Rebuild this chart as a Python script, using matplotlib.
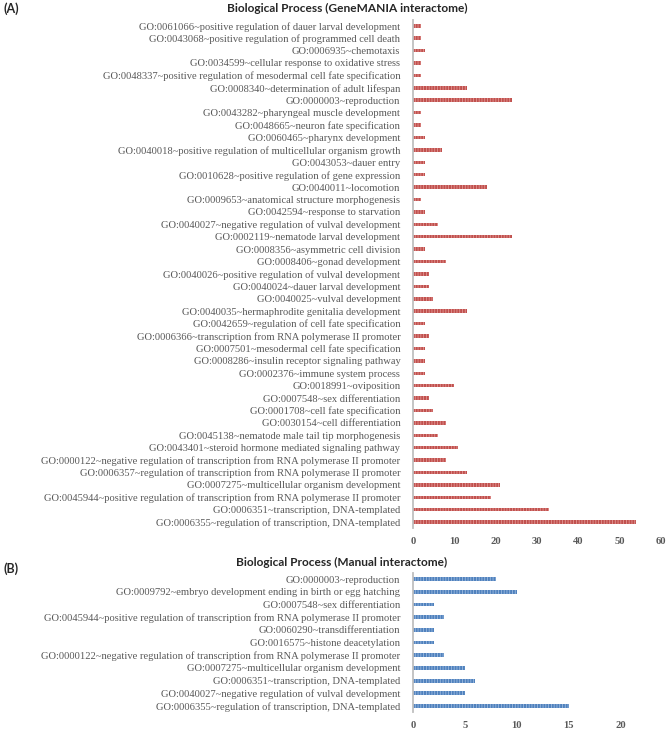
import numpy as np
import matplotlib
matplotlib.use("Agg")
import matplotlib.pyplot as plt

# Panel A: GeneMANIA interactome (top to bottom as shown)
terms_a = [
    "GO:0061066~positive regulation of dauer larval development",
    "GO:0043068~positive regulation of programmed cell death",
    "GO:0006935~chemotaxis",
    "GO:0034599~cellular response to oxidative stress",
    "GO:0048337~positive regulation of mesodermal cell fate specification",
    "GO:0008340~determination of adult lifespan",
    "GO:0000003~reproduction",
    "GO:0043282~pharyngeal muscle development",
    "GO:0048665~neuron fate specification",
    "GO:0060465~pharynx development",
    "GO:0040018~positive regulation of multicellular organism growth",
    "GO:0043053~dauer entry",
    "GO:0010628~positive regulation of gene expression",
    "GO:0040011~locomotion",
    "GO:0009653~anatomical structure morphogenesis",
    "GO:0042594~response to starvation",
    "GO:0040027~negative regulation of vulval development",
    "GO:0002119~nematode larval development",
    "GO:0008356~asymmetric cell division",
    "GO:0008406~gonad development",
    "GO:0040026~positive regulation of vulval development",
    "GO:0040024~dauer larval development",
    "GO:0040025~vulval development",
    "GO:0040035~hermaphrodite genitalia development",
    "GO:0042659~regulation of cell fate specification",
    "GO:0006366~transcription from RNA polymerase II promoter",
    "GO:0007501~mesodermal cell fate specification",
    "GO:0008286~insulin receptor signaling pathway",
    "GO:0002376~immune system process",
    "GO:0018991~oviposition",
    "GO:0007548~sex differentiation",
    "GO:0001708~cell fate specification",
    "GO:0030154~cell differentiation",
    "GO:0045138~nematode male tail tip morphogenesis",
    "GO:0043401~steroid hormone mediated signaling pathway",
    "GO:0000122~negative regulation of transcription from RNA polymerase II promoter",
    "GO:0006357~regulation of transcription from RNA polymerase II promoter",
    "GO:0007275~multicellular organism development",
    "GO:0045944~positive regulation of transcription from RNA polymerase II promoter",
    "GO:0006351~transcription, DNA-templated",
    "GO:0006355~regulation of transcription, DNA-templated",
]
counts_a = [2, 2, 3, 2, 2, 13, 24, 2, 2, 3, 7, 3, 3,
            18, 2, 3, 6, 24, 3, 8, 4, 4, 5, 13, 3, 4,
            3, 3, 3, 10, 4, 5, 8, 6, 11, 8, 13, 21, 19, 33, 54]
ticks_a = [0, 10, 20, 30, 40, 50, 60]

# Panel B: Manual interactome
terms_b = [
    "GO:0000003~reproduction",
    "GO:0009792~embryo development ending in birth or egg hatching",
    "GO:0007548~sex differentiation",
    "GO:0045944~positive regulation of transcription from RNA polymerase II promoter",
    "GO:0060290~transdifferentiation",
    "GO:0016575~histone deacetylation",
    "GO:0000122~negative regulation of transcription from RNA polymerase II promoter",
    "GO:0007275~multicellular organism development",
    "GO:0006351~transcription, DNA-templated",
    "GO:0040027~negative regulation of vulval development",
    "GO:0006355~regulation of transcription, DNA-templated",
]
counts_b = [8, 10, 2, 3, 2, 2, 3, 5, 6, 5, 15]
ticks_b = [0, 5, 10, 15, 20]

plt.rcParams['hatch.linewidth'] = 0.6
text_gray = '#595959'
spine_gray = '#BFBFBF'

fig = plt.figure(figsize=(6.69, 7.30), dpi=100)


def panel(ax, terms, counts, ticks, xmax, color, hatch_color, height):
    y = np.arange(len(terms))[::-1]
    ax.barh(y, counts, height=height, color=color, edgecolor=hatch_color,
            linewidth=0, hatch='||||||')
    ax.set_ylim(-0.5, len(terms) - 0.5)
    ax.set_xlim(0, xmax)
    ax.set_yticks(y)
    ax.set_yticklabels(terms, family='Liberation Serif', fontsize=7.6,
                       color=text_gray)
    ax.set_xticks(ticks)
    ax.set_xticklabels([str(t) for t in ticks], family='Liberation Serif',
                       fontsize=7.6, fontweight='bold', color=text_gray)
    ax.tick_params(axis='both', length=0)
    ax.tick_params(axis='y', pad=9)
    ax.tick_params(axis='x', pad=6)
    for s in ['top', 'right', 'bottom']:
        ax.spines[s].set_visible(False)
    ax.spines['left'].set_color(spine_gray)
    ax.spines['left'].set_linewidth(1.3)


ax_a = fig.add_axes([0.617, 0.2762, 0.371, 0.697])
panel(ax_a, terms_a, counts_a, ticks_a, 60, '#C0504D', '#E39795', 0.28)

ax_b = fig.add_axes([0.617, 0.0241, 0.342, 0.1914])
panel(ax_b, terms_b, counts_b, ticks_b, 22, '#4F81BD', '#9DBBE0', 0.3)

fig.text(347 / 669, 1 - 8 / 730, 'Biological Process (GeneMANIA interactome)',
         family='Lato', fontweight='bold', fontsize=8.6, color='#262626',
         ha='center', va='center')
fig.text(342 / 669, 1 - 562 / 730, 'Biological Process (Manual interactome)',
         family='Lato', fontweight='bold', fontsize=8.6, color='#262626',
         ha='center', va='center')
fig.text(4 / 669, 1 - 9 / 730, '(A)', family='Lato', fontweight='bold',
         fontsize=9, color='#262626', ha='left', va='center')
fig.text(4 / 669, 1 - 569 / 730, '(B)', family='Lato', fontweight='bold',
         fontsize=9, color='#262626', ha='left', va='center')

fig.savefig('out.png', dpi=100)
